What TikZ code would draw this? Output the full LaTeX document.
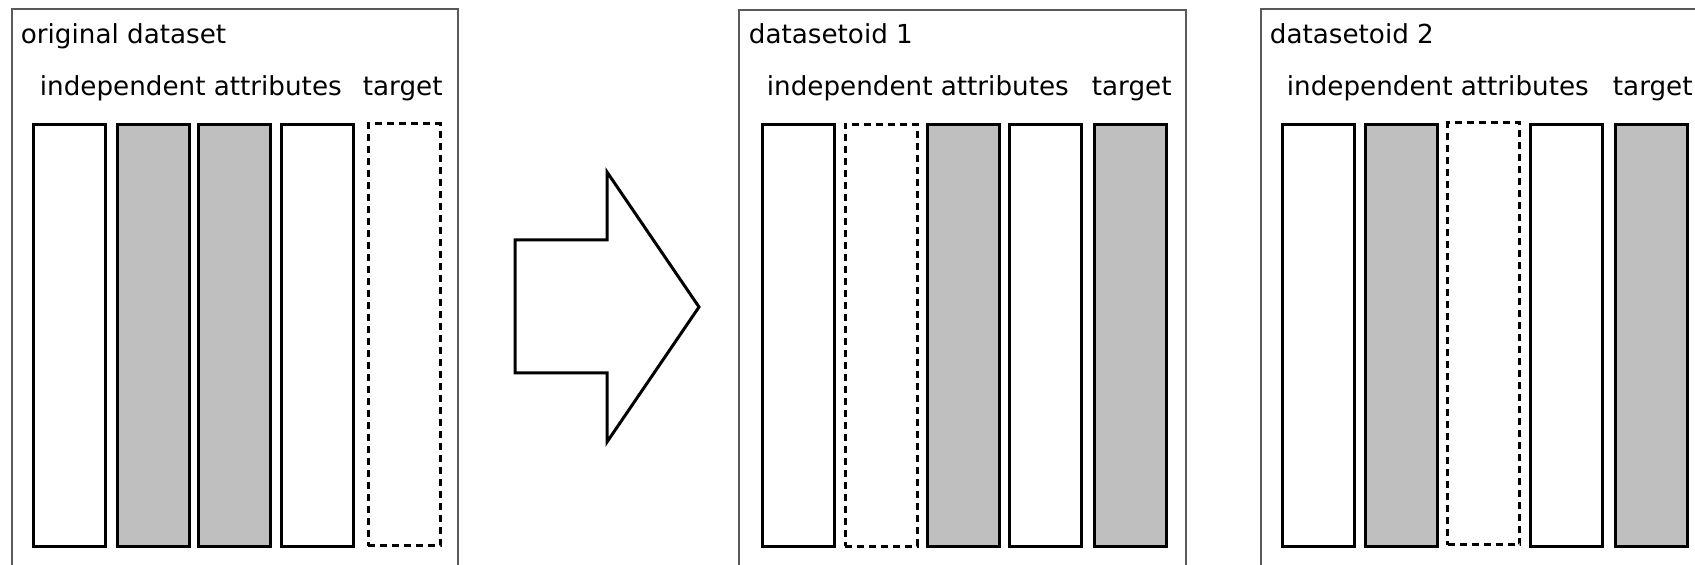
\documentclass[tikz,border=0pt]{standalone}
\usepackage{fontspec}
\setmainfont{DejaVu Sans}
\definecolor{attrgray}{RGB}{191,191,191}
\definecolor{framegray}{RGB}{90,90,90}
\tikzset{
  panel/.style={draw=framegray, line width=0.6pt},
  bar/.style={draw=black, line width=1.5pt, rectangle, inner sep=0pt,
              minimum width=36pt, minimum height=211pt},
  plainbar/.style={bar, fill=white},
  graybar/.style={bar, fill=attrgray},
  targetbar/.style={bar, fill=white, dash pattern=on 3.5pt off 2.5pt},
  label/.style={anchor=base west, inner sep=0pt, font=\fontsize{13.1pt}{15pt}\selectfont},
  bigarrow/.style={draw=black, line width=1.5pt, fill=white, line join=miter}
}
\begin{document}
\begin{tikzpicture}[x=0.5pt,y=-0.5pt]
\useasboundingbox (0,0) rectangle (1695,565);
\clip (0,0) rectangle (1695,565);

% panel frames (open at the bottom edge of the page)
\draw[panel] (12,9) rectangle (458,600);
\draw[panel] (739,10) rectangle (1186,600);
\draw[panel] (1261,9) rectangle (1720,600);

% original dataset
\node[label] (t0) at (20.5,44) {original dataset};
\node[label] (i0) at (39.5,96) {independent attributes};
\node[label] (g0) at (362.5,96) {target};
\node[plainbar]  (a1) at (69.5,335.5) {};
\node[graybar]   (a2) at (153.5,335.5) {};
\node[graybar]   (a3) at (234.5,335.5) {};
\node[plainbar]  (a4) at (317.5,335.5) {};
\node[targetbar] (a5) at (404,335) {};

% transformation arrow
\draw[bigarrow] (515,240) -- (607,240) -- (607,172) -- (699,307)
  -- (607,442) -- (607,373) -- (515,373) -- cycle;

% datasetoid 1
\node[label] (t1) at (748.5,44) {datasetoid 1};
\node[label] (i1) at (766.5,96) {independent attributes};
\node[label] (g1) at (1091.5,96) {target};
\node[plainbar]  (b1) at (798,335.5) {};
\node[targetbar] (b2) at (881,335.5) {};
\node[graybar]   (b3) at (963,335.5) {};
\node[plainbar]  (b4) at (1045.5,335.5) {};
\node[graybar]   (b5) at (1130.5,335.5) {};

% datasetoid 2
\node[label] (t2) at (1269.5,44) {datasetoid 2};
\node[label] (i2) at (1286.5,96) {independent attributes};
\node[label] (g2) at (1612.5,96) {target};
\node[plainbar]  (c1) at (1318.5,335.5) {};
\node[graybar]   (c2) at (1401.5,335.5) {};
\node[targetbar] (c3) at (1483.5,334) {};
\node[plainbar]  (c4) at (1566.5,335.5) {};
\node[graybar]   (c5) at (1651,335.5) {};
\end{tikzpicture}
\end{document}
